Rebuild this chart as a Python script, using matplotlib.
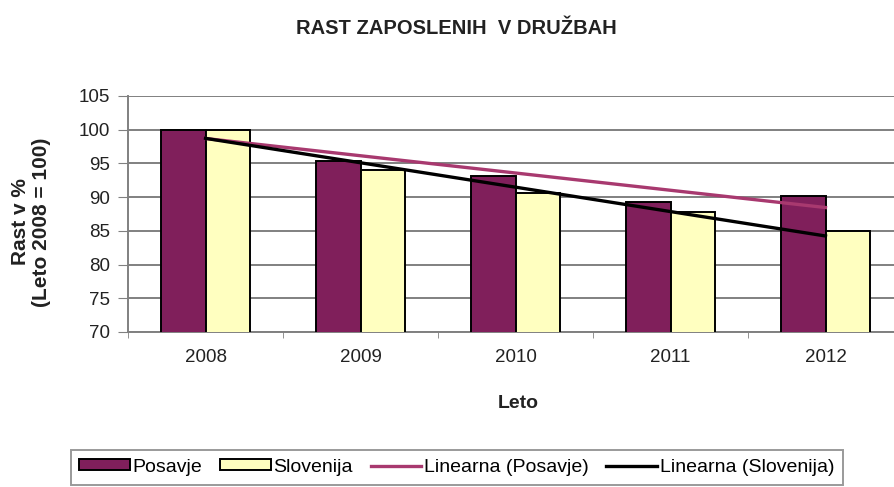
import numpy as np
import matplotlib
matplotlib.use("Agg")
import matplotlib.pyplot as plt

plt.rcParams['font.family'] = ['Liberation Sans', 'DejaVu Sans']

years = ['2008', '2009', '2010', '2011', '2012']
posavje = [100, 95.3, 93.1, 89.3, 90.2]
slovenija = [100, 94.0, 90.6, 87.8, 85.0]

fig = plt.figure(figsize=(8.94, 4.87), dpi=100)
# plot area runs a little past the right edge, like the original
ax = fig.add_axes([128 / 894, 1 - 332 / 487, 775 / 894, 236 / 487])

x = np.arange(len(years))
w = 0.284
b1 = ax.bar(x - w / 2, posavje, w, color='#801F5B', edgecolor='black', linewidth=1.4,
            label='Posavje', zorder=3)
b2 = ax.bar(x + w / 2, slovenija, w, color='#FFFFC0', edgecolor='black', linewidth=1.4,
            label='Slovenija', zorder=3)

# linear trend lines from the data
p_fit = np.polyfit(x, posavje, 1)
s_fit = np.polyfit(x, slovenija, 1)
l1, = ax.plot(x, np.polyval(p_fit, x), color='#A8396F', linewidth=2.4,
              label='Linearna (Posavje)', zorder=4)
l2, = ax.plot(x, np.polyval(s_fit, x), color='black', linewidth=2.4,
              label='Linearna (Slovenija)', zorder=5)

ax.set_ylim(70, 105)
ax.set_yticks(range(70, 106, 5))
ax.set_xlim(-0.5, 4.5)
ax.set_xticks(x)
ax.set_xticklabels(years)
ax.set_xticks(np.arange(-0.5, 5, 1), minor=True)
ax.tick_params(axis='x', which='major', length=0, labelsize=13.5, pad=12,
               labelcolor='#222222')
ax.tick_params(axis='x', which='minor', length=4, direction='out', color='#808080')
ax.tick_params(axis='y', length=7, direction='out', labelsize=13.5, pad=6,
               color='#808080', labelcolor='#222222')

ax.yaxis.grid(True, color='#808080', linewidth=1.4, zorder=0)
ax.set_axisbelow(True)
for s in ['top', 'right']:
    ax.spines[s].set_visible(False)
ax.spines['left'].set_color('#808080')
ax.spines['bottom'].set_color('#808080')
ax.spines['left'].set_linewidth(1.4)
ax.spines['bottom'].set_linewidth(1.4)

fig.text(456 / 894, 1 - 28 / 487, 'RAST ZAPOSLENIH  V DRUŽBAH', ha='center',
         va='center', fontsize=14.5, fontweight='bold', color='#222222')
fig.text(518 / 894, 1 - 403 / 487, 'Leto', ha='center', va='center',
         fontsize=14, fontweight='bold', color='#222222')
fig.text(31 / 894, 1 - 222 / 487, 'Rast v %\n(Leto 2008 = 100)', ha='center',
         va='center', rotation=90, fontsize=15, fontweight='bold',
         multialignment='center', linespacing=1.15, color='#222222')

leg = fig.legend(handles=[b1, b2, l1, l2], loc='upper right',
                 bbox_to_anchor=(843 / 894, 1 - 450 / 487),
                 ncol=4, fontsize=14, frameon=True, fancybox=False,
                 handlelength=2.6, handleheight=0.5, handletextpad=0.15,
                 columnspacing=0.9, borderpad=0.45, borderaxespad=0,
                 edgecolor='#808080')
leg.get_frame().set_linewidth(1.4)

fig.savefig('out.png', dpi=100)
